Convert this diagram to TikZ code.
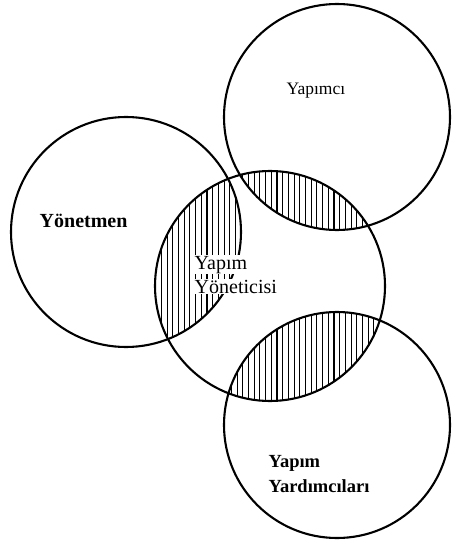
\documentclass[tikz,border=0pt]{standalone}
\usepackage{fontspec}
\setmainfont{Liberation Serif}
\begin{document}
\begin{tikzpicture}[x=1pt,y=-1pt,
  ring/.style={circle,draw=black,line width=2.1pt,inner sep=0pt},
  hatchline/.style={line width=1.1pt,black},
  lbl/.style={font=\fontsize{19}{24}\selectfont,inner sep=0.5pt,anchor=base west},
  lblw/.style={lbl,fill=white}]
\useasboundingbox (0,0) rectangle (451,545);
% hatched lenses
\begin{scope}
  \clip (270,286) circle (115);
  \begin{scope}
    \clip (126,232) circle (115);
    \foreach \x in {150,155.7,...,260} \draw[hatchline] (\x,150) -- (\x,360);
  \end{scope}
  \begin{scope}
    \clip (337,117) circle (113);
    \foreach \x in {220,225.7,...,400} \draw[hatchline] (\x,160) -- (\x,240);
  \end{scope}
  \begin{scope}
    \clip (337,425) circle (113);
    \foreach \x in {220,225.7,...,400} \draw[hatchline] (\x,300) -- (\x,410);
  \end{scope}
\end{scope}
% circles
\node[ring,minimum size=230] (yonetmen) at (126,232) {};
\node[ring,minimum size=226] (yapimci) at (337,117) {};
\node[ring,minimum size=230] (yonetici) at (270,286) {};
\node[ring,minimum size=226] (yardimci) at (337,425) {};
% labels
\node[lbl,font=\fontsize{17.5}{20}\selectfont] (t1) at (286,95) {Yapımcı};
\node[lbl,font=\fontsize{20}{24}\selectfont\bfseries] (t2) at (39,227) {Yönetmen};
\node[lblw,font=\fontsize{20}{24}\selectfont] (t3) at (194,269) {Yapım};
\node[lblw,font=\fontsize{20}{24}\selectfont] (t4) at (194,293) {Yöneticisi};
\node[lbl,font=\fontsize{18.5}{24}\selectfont\bfseries] (t5) at (268,467) {Yapım};
\node[lbl,font=\fontsize{18.5}{24}\selectfont\bfseries] (t6) at (268,492) {Yardımcıları};
\end{tikzpicture}
\end{document}
